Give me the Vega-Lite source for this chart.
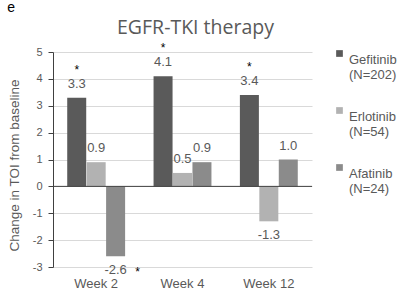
{
  "$schema": "https://vega.github.io/schema/vega-lite/v6.json",
  "width": 259,
  "height": 215,
  "autosize": {"type": "none"},
  "padding": {"left": 53, "top": 52, "right": 88, "bottom": 31},
  "background": "white",
  "config": {
    "font": "Liberation Sans",
    "view": {"stroke": null}
  },
  "data": {
    "values": [
      {"week": "Week 2", "drug": "Gefitinib (N=202)", "value": 3.3, "label": "3.3", "star": true},
      {"week": "Week 2", "drug": "Erlotinib (N=54)", "value": 0.9, "label": "0.9", "star": false},
      {"week": "Week 2", "drug": "Afatinib (N=24)", "value": -2.6, "label": "-2.6", "star": true},
      {"week": "Week 4", "drug": "Gefitinib (N=202)", "value": 4.1, "label": "4.1", "star": true},
      {"week": "Week 4", "drug": "Erlotinib (N=54)", "value": 0.5, "label": "0.5", "star": false},
      {"week": "Week 4", "drug": "Afatinib (N=24)", "value": 0.9, "label": "0.9", "star": false},
      {"week": "Week 12", "drug": "Gefitinib (N=202)", "value": 3.4, "label": "3.4", "star": true},
      {"week": "Week 12", "drug": "Erlotinib (N=54)", "value": -1.3, "label": "-1.3", "star": false},
      {"week": "Week 12", "drug": "Afatinib (N=24)", "value": 1.0, "label": "1.0", "star": false}
    ]
  },
  "encoding": {
    "x": {
      "field": "week",
      "type": "nominal",
      "sort": ["Week 2", "Week 4", "Week 12"],
      "scale": {"paddingInner": 0, "paddingOuter": 0},
      "axis": {
        "title": null,
        "labelAngle": 0,
        "domain": false,
        "ticks": false,
        "labelFontSize": 13,
        "labelColor": "#595959",
        "labelPadding": 10
      }
    },
    "xOffset": {
      "field": "drug",
      "type": "nominal",
      "sort": ["Gefitinib (N=202)", "Erlotinib (N=54)", "Afatinib (N=24)"],
      "scale": {"paddingOuter": 0.72, "paddingInner": 0}
    },
    "y": {
      "field": "value",
      "type": "quantitative",
      "scale": {"domain": [-3, 5], "nice": false, "zero": false},
      "axis": {
        "title": "Change in TOI from baseline",
        "titleFontSize": 13.5,
        "titleFontWeight": "normal",
        "titleColor": "#595959",
        "titlePadding": 11,
        "titleY": 113,
        "values": [-3, -2, -1, 0, 1, 2, 3, 4, 5],
        "labelOverlap": false,
        "labelExpr": "replace(datum.label, '\u2212', '-')",
        "labelFontSize": 11,
        "labelColor": "#595959",
        "labelPadding": 6,
        "domainColor": "#404040",
        "tickColor": "#404040",
        "tickSize": 5,
        "gridColor": "#d9d9d9"
      }
    }
  },
  "layer": [
    {
      "mark": {"type": "bar", "width": 19},
      "encoding": {
        "color": {
          "field": "drug",
          "type": "nominal",
          "sort": ["Gefitinib (N=202)", "Erlotinib (N=54)", "Afatinib (N=24)"],
          "scale": {"range": ["#5a5a5a", "#b2b2b2", "#8b8b8b"]},
          "legend": {
            "title": null,
            "orient": "none",
            "legendX": 280,
            "legendY": -5,
            "symbolType": "square",
            "symbolSize": 45,
            "symbolStrokeWidth": 0,
            "labelExpr": "split(datum.label, ' ')",
            "labelFontSize": 13,
            "labelColor": "#595959",
            "labelBaseline": "top",
            "labelOffset": 3,
            "rowPadding": 22,
            "labelLimit": 200
          }
        }
      }
    },
    {
      "transform": [{"filter": "datum.value > 0"}],
      "mark": {"type": "text", "dy": -14, "fontSize": 13, "color": "#595959"},
      "encoding": {"text": {"field": "label"}}
    },
    {
      "transform": [{"filter": "datum.value < 0"}],
      "mark": {"type": "text", "dy": 14, "fontSize": 13, "color": "#595959"},
      "encoding": {"text": {"field": "label"}}
    },
    {
      "transform": [{"filter": "datum.star && datum.value > 0"}],
      "mark": {"type": "text", "dy": -28, "fontSize": 12, "color": "#000000", "text": "*"},
      "encoding": {}
    },
    {
      "transform": [{"filter": "datum.star && datum.value < 0"}],
      "mark": {"type": "text", "dy": 16, "dx": 22, "fontSize": 12, "color": "#000000", "text": "*"},
      "encoding": {}
    },
    {
      "data": {"values": [{"v": 0}]},
      "mark": {"type": "rule", "color": "#404040", "strokeWidth": 1},
      "encoding": {"y": {"field": "v", "type": "quantitative"}, "x": null, "xOffset": null}
    },
    {
      "data": {"values": [{"week": "Week 4", "pos": 5.88, "t": "EGFR-TKI therapy"}]},
      "mark": {"type": "text", "dx": 13, "fontSize": 19.5, "font": "Open Sans", "color": "#595959", "clip": false},
      "encoding": {
        "x": {"field": "week", "type": "nominal"},
        "xOffset": null,
        "y": {"field": "pos", "type": "quantitative"},
        "text": {"field": "t"}
      }
    },
    {
      "data": {"values": [{"week": "Week 2", "pos": 6.64, "t": "e"}]},
      "mark": {"type": "text", "dx": -85, "fontSize": 14, "color": "#000000", "clip": false},
      "encoding": {
        "x": {"field": "week", "type": "nominal"},
        "xOffset": null,
        "y": {"field": "pos", "type": "quantitative"},
        "text": {"field": "t"}
      }
    }
  ]
}
